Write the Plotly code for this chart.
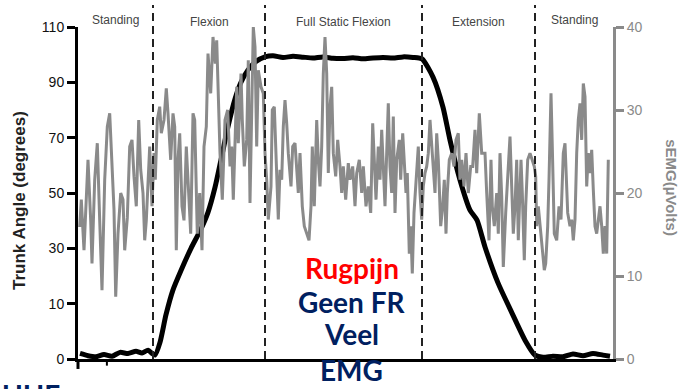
import plotly.graph_objects as go

# ---------------- data ----------------
# time in samples (0..535), phase boundaries
phase_bounds = [0, 75, 187, 344, 457, 535]
phase_names = ["Standing", "Flexion", "Full Static Flexion", "Extension", "Standing"]

# trunk angle (degrees, as labelled on the left axis)
trunk_t = [2, 10, 18, 26, 34, 42, 50, 58, 64, 70, 74, 77,
           82, 88, 95, 103, 113, 123, 130, 137, 143, 150, 157, 163, 170, 178, 187,
           195, 205, 215, 225, 235, 245, 255, 265, 275, 285, 295, 305, 315, 325, 335, 344,
           355, 365, 372, 382, 392, 399, 407, 420, 434, 447, 457,
           465, 475, 485, 495, 505, 515, 525, 532]
trunk_v = [1.0, 0.6, 0.4, 0.8, 0.5, 1.2, 1.0, 1.4, 1.1, 1.6, 1.0, 0.7,
           3, 8, 15, 22, 30, 37, 43, 52, 62, 74, 84, 90, 94.5, 97.5, 99.2,
           99.6, 99.0, 99.4, 99.1, 98.8, 99.2, 98.7, 98.6, 98.9, 98.5, 98.8, 99.0, 98.8, 99.2, 99.0, 98.5,
           91.9, 81, 69.1, 54.7, 43.8, 40.2, 30.5, 17.5, 8.3, 3.4, 0.7,
           0.3, 0.5, 0.4, 0.9, 0.6, 1.0, 0.7, 0.5]

# surface EMG (µV)
emg_t = [1.7, 3.3, 6, 8.3, 10, 12.7, 14, 16.7, 19.3, 21.7, 24, 26.7, 29.3, 31.7, 33.3, 36, 37.7, 40,
         42.7, 45, 46.7, 49.3, 51.7, 54, 56, 58.3, 60.7, 62.7, 65, 66.7, 68.3, 70, 71.7, 74, 76, 77.3,
         79.3, 81.7, 83.3, 86, 88.3, 90, 92.7, 95, 96.7, 98.3, 100, 101.7, 104, 106, 108.3, 110,
         112.7, 115, 116.7, 119.3, 121.7, 124, 126, 128.3, 130, 132.7, 135, 137.3,
         138.7, 142, 144.3, 147, 149.7, 152, 153.7, 155.3, 157, 158.7, 160.3, 163, 164.3, 166.3,
         168.7, 170.3, 172, 173.7, 175.3, 177, 178.7, 180.3, 183, 185.3, 187, 188.7, 190.3, 193,
         194.3, 196.3, 198.7, 200.3, 202, 203.7, 205.3, 207, 208.7, 210.3, 213, 214.7, 217, 218.7,
         220.3, 222, 224.3, 226.3, 228.7, 231, 233, 234.3, 236.3, 238.7, 240.3, 242, 243.7, 245.3,
         247, 248.7, 250.3, 252, 253.7, 255.3, 257.7, 259.7, 262, 263.7, 265.3, 267.7, 270.3,
         272, 274.7, 277, 278.7, 281.3, 283.7, 285.3, 288, 290.3, 292.7, 294.7, 296, 298, 300.3,
         302, 303.7, 305.3, 307, 308.7, 310.3, 312, 313.7, 315.3, 317, 318.7, 321.3, 322.7, 324.7,
         326, 328, 329.3, 331.3, 332.7, 334.3, 336, 337.3, 338.7, 340.3, 342, 343.7, 345.3, 347,
         348.7, 350.3, 352, 353.7, 355.3, 357, 358.7, 360.3, 362.7, 364.7, 366.3, 368, 369.3,
         371.3, 373.7, 376, 378, 380.3, 382, 383.7, 386, 388, 390.3, 392.7, 394.7, 397, 398.7,
         401.3, 403.7,
         407, 408.7, 411, 413, 414.3, 416.3, 418.7, 420.3, 422, 423.7, 425.3, 427.7, 429.7, 432,
         433.7, 435.3, 437, 438.7, 440.3, 443, 444.3, 446.3, 447.7, 449.7, 452, 454.3, 456.3,
         457.7, 458.7, 460.3, 463, 464.3, 466.3, 467.7, 469.7, 471, 473, 474.3, 476.3, 478.7, 481,
         483, 485.3, 487, 488.7, 489.7, 492, 493.7, 495.3, 497, 498.7, 500.3, 502, 503.7, 505.3,
         507, 508.7, 510.3, 512, 513.7, 515.3, 517, 518.7, 520.3, 522, 523.7, 525.3, 527, 528.7,
         530.3]
emg_v = [15.9, 19.2, 13.1, 18.4, 24.0, 16.7, 11.5, 21.6, 26.0, 16.7, 8.3, 21.6, 28.0, 29.6, 25.6, 18.0, 7.5, 15.1,
         20.0, 19.2, 13.1, 17.0, 25.6, 26.4, 22.0, 18.4, 28.8, 22.8, 20.0, 14.3, 16.7, 21.6, 25.6, 18.4, 24.8, 21.6,
         28.8, 30.4, 27.2, 28.8, 32.6, 29.6, 24.0, 29.6, 28.0, 13.1, 24.0, 27.2, 18.4, 16.7, 25.6, 21.6,
         15.1, 29.6, 28.8, 15.1, 20.0, 13.1, 25.6, 28.0, 36.8, 32.0, 38.8, 35.6,
         38.4, 24.8, 19.2, 28.8, 30.0, 23.2, 25.6, 19.2, 26.8, 32.8, 26.0, 34.4, 28.8, 23.2,
         26.4, 36.0, 18.8, 28.8, 40.0, 37.6, 25.6, 34.8, 32.8, 32.0, 24.8, 21.6, 16.8, 20.8,
         30.0, 30.4, 23.2, 16.8, 22.8, 21.6, 28.0, 31.2, 28.4, 24.8, 20.8, 25.6, 26.0, 22.4,
         20.0, 24.8, 18.4, 16.0, 15.1, 14.3, 18.4, 25.6, 18.4, 28.8, 24.0, 20.8, 25.6, 34.4,
         38.8, 34.4, 22.4, 30.4, 32.8, 24.8, 22.0, 26.4, 23.2, 20.0, 23.2, 19.2, 23.6,
         21.6, 23.2, 18.4, 22.4, 24.0, 20.0, 23.2, 18.4, 20.8, 17.6, 28.4, 24.8, 19.2, 25.6,
         21.6, 27.6, 22.4, 18.4, 24.8, 30.8, 23.2, 20.0, 29.2, 17.6, 24.0, 26.4, 21.6, 27.2,
         24.4, 20.0, 22.4, 12.7, 16.0, 10.3, 17.6, 20.0, 23.2, 25.6, 20.0, 16.8, 20.8, 22.4,
         23.2, 24.8, 28.8, 25.6, 22.8, 20.0, 27.2, 24.0, 16.0, 18.4, 21.6, 15.1, 20.0,
         24.0, 24.8, 23.2, 26.4, 27.2, 21.6, 24.0, 20.8, 24.8, 20.0, 23.2, 23.2, 27.6, 22.4,
         29.6, 24.8,
         24.8, 20.0, 14.3, 24.0, 18.4, 16.0, 20.0, 15.1, 24.8, 19.6, 11.1, 17.6, 22.4, 26.8,
         20.8, 15.1, 18.4, 24.0, 14.3, 24.0, 20.0, 11.9, 18.4, 24.0, 24.8, 24.0, 23.2,
         22.0, 16.0, 18.4, 15.1, 13.5, 10.7, 11.5, 16.0, 21.6, 32.0, 25.6, 15.1, 14.3, 18.4,
         16.8, 24.8, 26.0, 19.2, 17.6, 16.0, 16.8, 14.3, 16.8, 24.8, 28.8, 30.8, 26.4, 33.2,
         31.6, 20.8, 24.8, 22.4, 25.2, 20.4, 16.0, 15.1, 16.8, 18.4, 16.0, 12.7, 16.0, 12.7,
         24.0]

left_tick_labels = ["0", "10", "30", "50", "70", "90", "110"]
right_tick_vals = [0, 10, 20, 30, 40]


def angle_to_axis(v):
    # left axis ticks are evenly spaced but labelled 0, 10, 30, ... 110
    return 2 * v if v < 10 else v + 10


GRAY = "#8a8a8a"
NAVY = "#002060"

fig = go.Figure()
fig.add_trace(go.Scatter(x=emg_t, y=emg_v, yaxis="y2", mode="lines",
                         line=dict(color=GRAY, width=3), showlegend=False))
fig.add_trace(go.Scatter(x=trunk_t, y=[angle_to_axis(v) for v in trunk_v], mode="lines",
                         line=dict(color="black", width=5, shape="spline", smoothing=0.6),
                         showlegend=False))

shapes = []
for b in phase_bounds[1:-1]:
    shapes.append(dict(type="line", xref="x", yref="paper", x0=b, x1=b, y0=0, y1=1.066,
                       line=dict(color="#222", width=2, dash="8px,5px")))
# left axis extends a little below the baseline, plus a small tick
shapes.append(dict(type="line", xref="paper", yref="paper", x0=0, x1=0, y0=0, y1=-0.03,
                   line=dict(color="black", width=3)))
shapes.append(dict(type="line", xref="paper", yref="paper", x0=0.054, x1=0.054, y0=0, y1=-0.02,
                   line=dict(color="black", width=2)))

annotations = []
for i, name in enumerate(phase_names):
    cx = (phase_bounds[i] + phase_bounds[i + 1]) / 2
    annotations.append(dict(x=cx, xref="x", y=1.015 if i in (1, 2, 3) else 1.021, yref="paper",
                            xanchor="center", yanchor="middle",
                            text=name, showarrow=False,
                            font=dict(family="Liberation Sans, Arial", size=12, color="#444")))

annotations.append(dict(x=-0.109, xref="paper", y=0.478, yref="paper", text="<b>Trunk Angle (degrees)</b>",
                        xanchor="center", yanchor="middle",
                        textangle=-90, showarrow=False,
                        font=dict(family="Liberation Sans, Arial", size=17, color="#222")))
annotations.append(dict(x=1.110, xref="paper", y=0.515, yref="paper", text="<b>sEMG(µVolts)</b>",
                        xanchor="center", yanchor="middle",
                        textangle=90, showarrow=False,
                        font=dict(family="Liberation Sans, Arial", size=15, color=GRAY)))

big = [("Rugpijn", "#ff0000", 0.274), ("Geen FR", NAVY, 0.172), ("Veel", NAVY, 0.075), ("EMG", NAVY, -0.033)]
for txt, col, yy in big:
    annotations.append(dict(x=0.512, xref="paper", y=yy, yref="paper", text="<b>" + txt + "</b>",
                            xanchor="center", yanchor="middle",
                            showarrow=False, font=dict(family="Lato", size=28, color=col)))
annotations.append(dict(x=-0.146, xref="paper", xanchor="left", y=-0.05, yref="paper", yanchor="top",
                        text="<b>UHE</b>", showarrow=False,
                        font=dict(family="Lato", size=28, color=NAVY)))

fig.update_layout(
    width=683, height=389,
    margin=dict(l=78, r=70, t=27, b=30),
    paper_bgcolor="white", plot_bgcolor="white",
    xaxis=dict(range=[0, 535], showline=True, linecolor="black", linewidth=3,
               showticklabels=False, ticks="", showgrid=False, zeroline=False),
    yaxis=dict(range=[0, 120], tickvals=[0, 20, 40, 60, 80, 100, 120], ticktext=left_tick_labels,
               ticks="outside", ticklen=8, tickwidth=3, tickcolor="black",
               showline=True, linecolor="black", linewidth=3,
               tickfont=dict(family="Liberation Sans, Arial", size=14, color="#111"),
               showgrid=False, zeroline=False),
    yaxis2=dict(range=[0, 40], overlaying="y", side="right", tickvals=right_tick_vals,
                ticks="outside", ticklen=8, tickwidth=3, tickcolor=GRAY,
                showline=True, linecolor=GRAY, linewidth=3,
                tickfont=dict(family="Liberation Sans, Arial", size=14, color=GRAY),
                showgrid=False, zeroline=False),
    shapes=shapes, annotations=annotations,
)

fig.write_html("out.html")
